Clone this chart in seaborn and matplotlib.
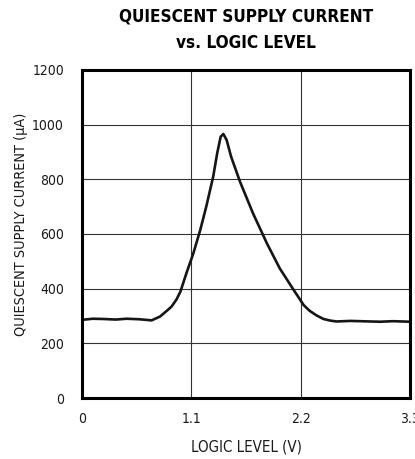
import pandas as pd
import seaborn as sns
from matplotlib import pyplot as plt
from matplotlib import font_manager

# values
logic_v = [0.0, 0.11, 0.22, 0.34, 0.45, 0.58, 0.70, 0.785, 0.85, 0.90, 0.95,
           0.99, 1.05, 1.12, 1.19, 1.25, 1.32, 1.36, 1.395, 1.422, 1.455,
           1.50, 1.59, 1.72, 1.86, 1.99, 2.13, 2.23, 2.29, 2.36, 2.43,
           2.50, 2.56, 2.70, 2.80, 2.90, 3.00, 3.13, 3.22, 3.30]
supply_ua = [286, 290, 289, 287, 290, 288, 284, 298, 318, 334, 360,
             389, 456, 529, 615, 700, 810, 895, 956, 966, 944,
             883, 791, 676, 566, 474, 395, 340, 319, 302, 289,
             283, 280, 282, 281, 280, 279, 281, 280, 279]

x_ticks = [0, 1.1, 2.2, 3.3]
x_tick_labels = ['0', '1.1', '2.2', '3.3']
y_ticks = [0, 200, 400, 600, 800, 1000, 1200]

df = pd.DataFrame({'v': logic_v, 'i': supply_ua})

sns.set_style('white')

# the reference uses a narrow sans: prefer Liberation Sans Narrow, else a condensed face
def find_face(keys, bold):
    for f in font_manager.fontManager.ttflist:
        fn = f.fname.lower().replace(' ', '').replace('-', '')
        if 'italic' in fn or 'oblique' in fn:
            continue
        if not any(k in fn for k in keys):
            continue
        is_bold = 'bold' in fn
        if is_bold == bold:
            return f.fname
    return None

reg_file = find_face(['liberationsansnarrow'], False)
bold_file = find_face(['liberationsansnarrow'], True)
scale = 1.0
if reg_file is None:
    reg_file = find_face(['narrow', 'condensed'], False)
    bold_file = find_face(['narrow', 'condensed'], True)
    scale = 0.82

plt.rcParams['font.family'] = ['Liberation Sans', 'DejaVu Sans']

def fp(size, bold=False):
    path = bold_file if bold else reg_file
    if path:
        return font_manager.FontProperties(fname=path, size=size * scale)
    return font_manager.FontProperties(family=['Liberation Sans', 'DejaVu Sans'],
                                       size=size * 0.8, weight='bold' if bold else 'normal')

fig = plt.figure(figsize=(4.15, 4.59), dpi=100)
ax = fig.add_axes([82 / 415, 61 / 459, 328 / 415, 328 / 459])

sns.lineplot(data=df, x='v', y='i', ax=ax, color='#151515', linewidth=1.9)

ax.set_xlim(0, 3.3)
ax.set_ylim(0, 1200)
ax.set_xticks(x_ticks)
ax.set_xticklabels(x_tick_labels)
ax.set_yticks(y_ticks)
ax.grid(True, color='#333333', linewidth=0.8)
ax.tick_params(length=0, colors='#1a1a1a')
ax.tick_params(axis='x', pad=10)
ax.tick_params(axis='y', pad=13)
for lab in ax.get_xticklabels() + ax.get_yticklabels():
    lab.set_fontproperties(fp(12.2))
for s in ax.spines.values():
    s.set_linewidth(2.2)
    s.set_color('black')

ax.set_xlabel('LOGIC LEVEL (V)', fontproperties=fp(13.2), color='#1a1a1a')
ax.xaxis.set_label_coords(0.5, (398 - 439) / 328)
ax.set_ylabel('QUIESCENT SUPPLY CURRENT (\u00b5A)', fontproperties=fp(12.6),
              color='#1a1a1a')
ax.yaxis.set_label_coords((28 - 82) / 328, (398 - 224) / 328)

fig.text(246 / 415, 1 - 17 / 459, 'QUIESCENT SUPPLY CURRENT', ha='center', va='center',
         fontproperties=fp(15, bold=True), color='black')
fig.text(246 / 415, 1 - 43 / 459, 'vs. LOGIC LEVEL', ha='center', va='center',
         fontproperties=fp(15, bold=True), color='black')

fig.savefig('out.png', dpi=100)
